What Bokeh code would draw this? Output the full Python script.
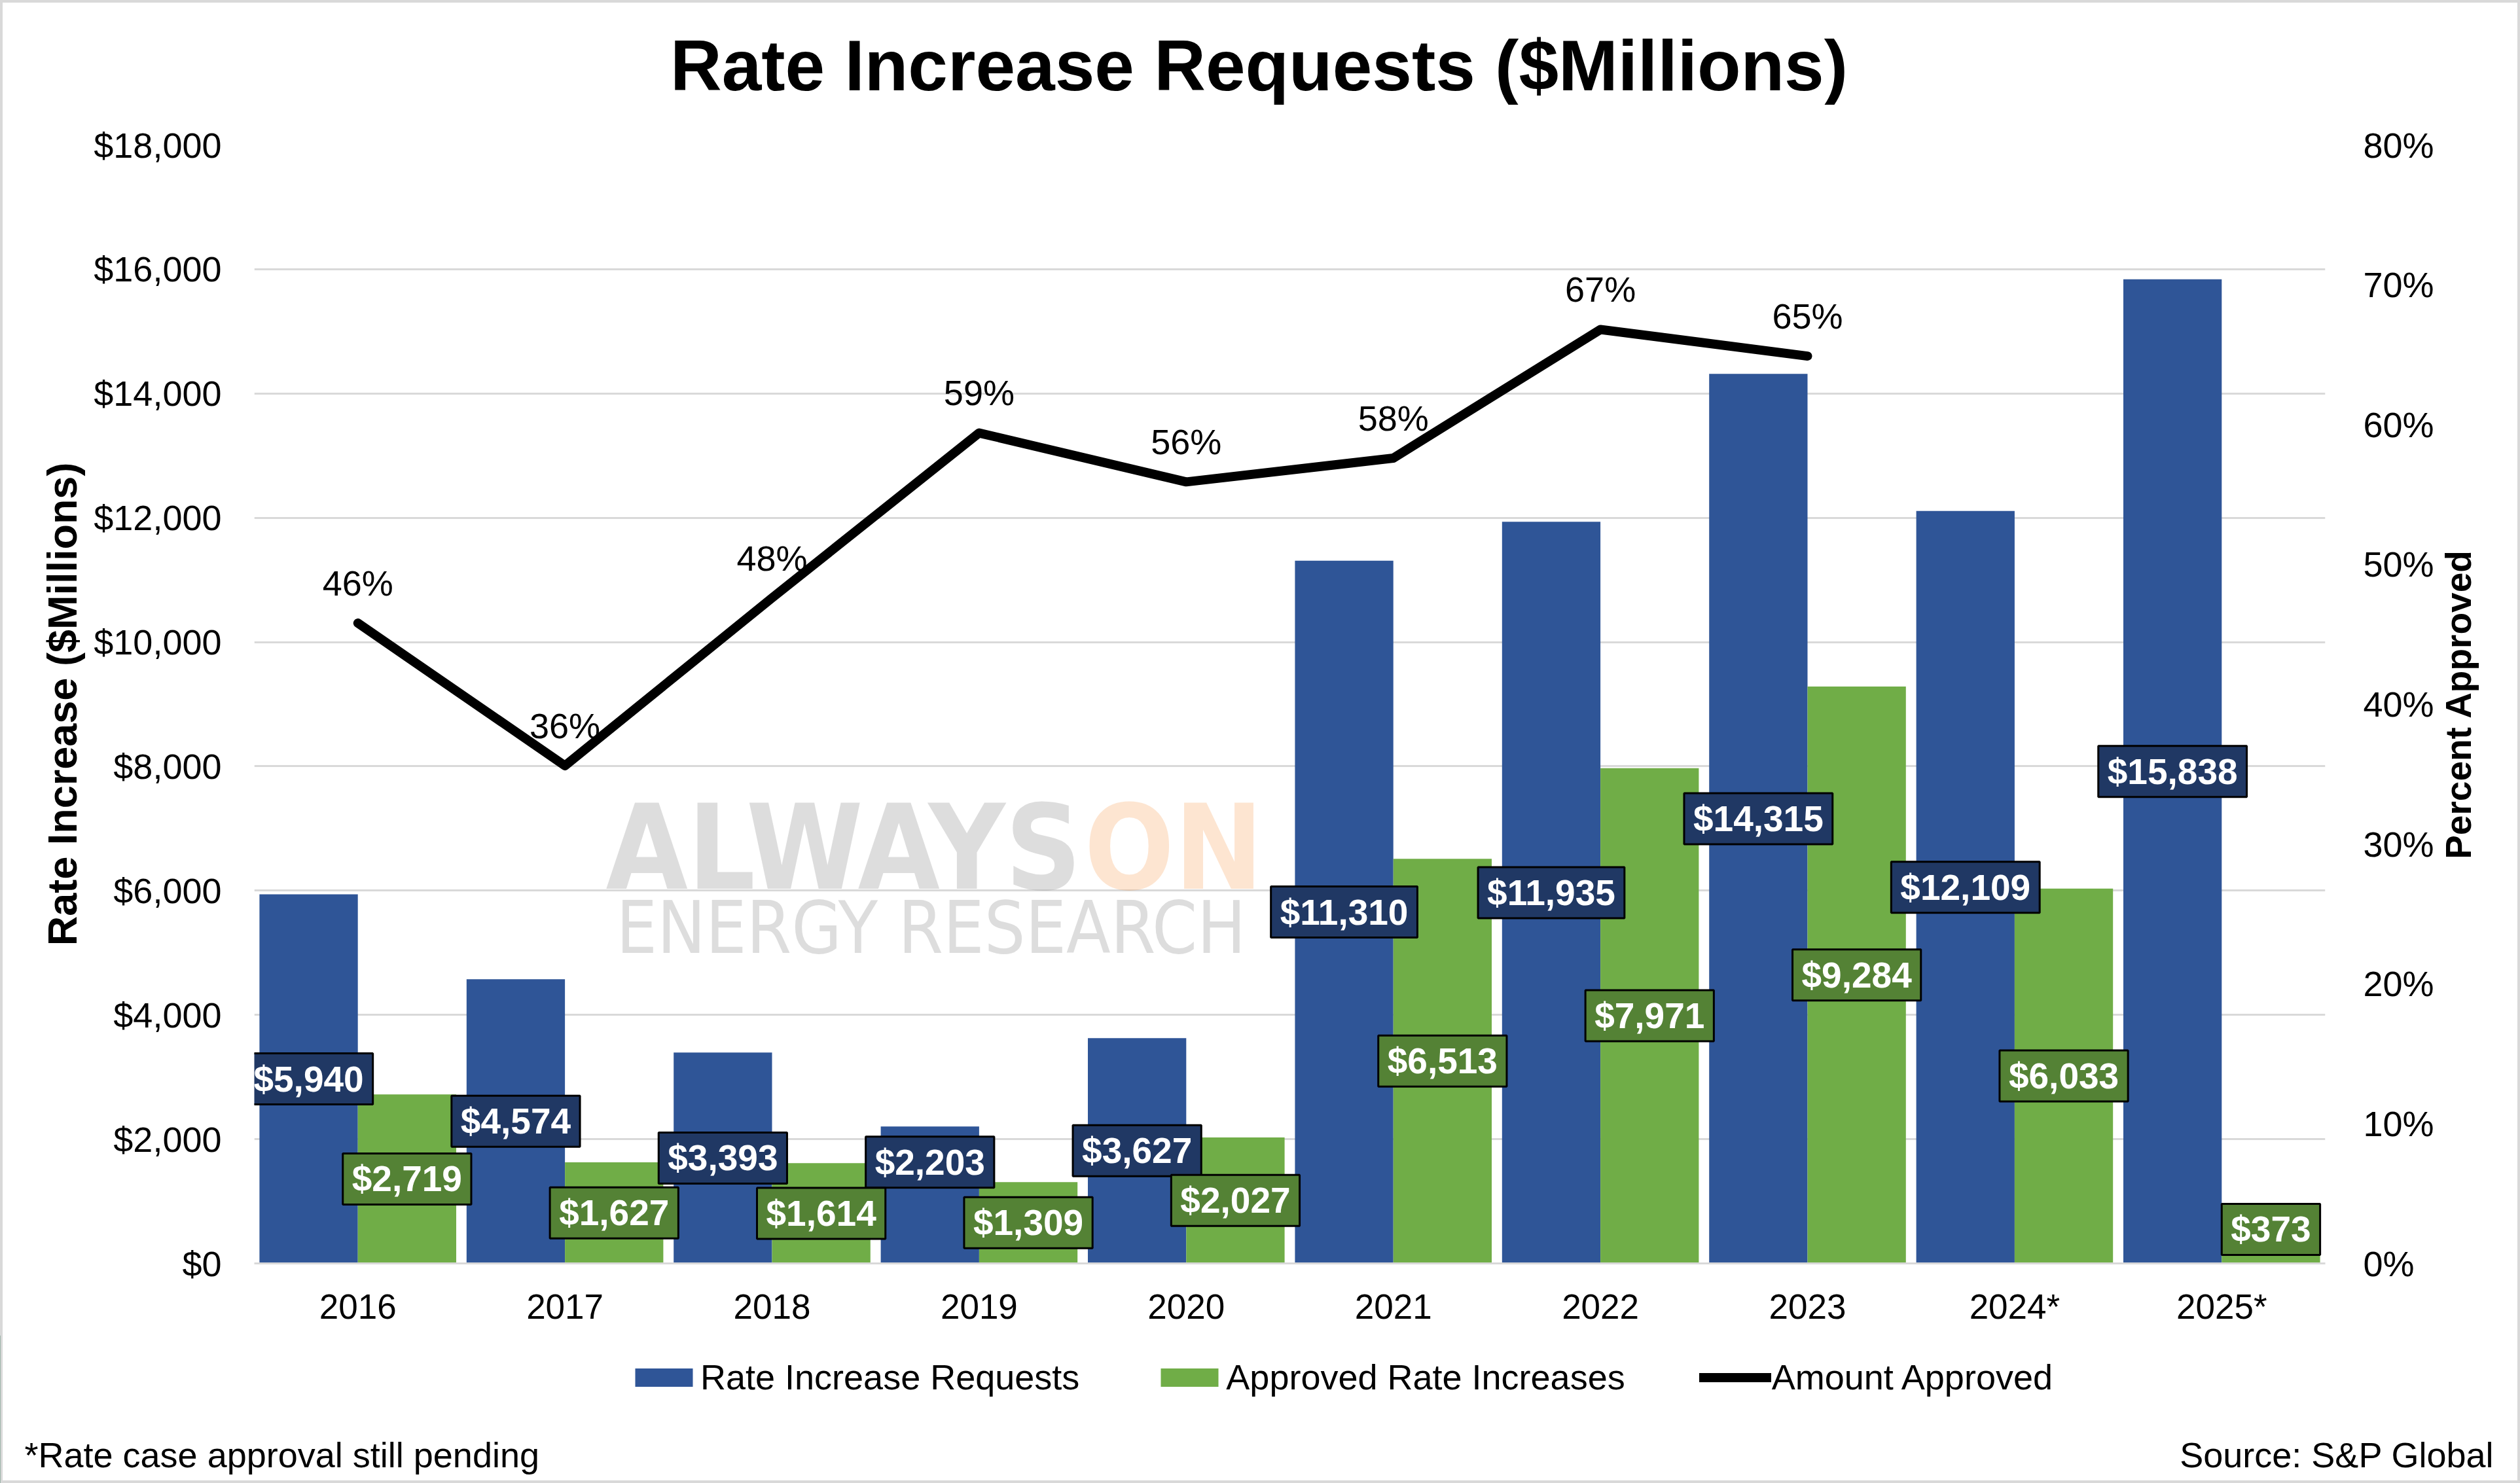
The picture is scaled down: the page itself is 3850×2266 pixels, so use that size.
import math

from bokeh.plotting import figure
from bokeh.layouts import column
from bokeh.models import (ColumnDataSource, FactorRange, Range1d, LinearAxis, FixedTicker,
                          NumeralTickFormatter, PrintfTickFormatter, Label, Legend, LegendItem)
from bokeh.transform import dodge
from bokeh.core.properties import value
from bokeh.embed import file_html
from bokeh.resources import INLINE

# data
years = ["2016", "2017", "2018", "2019", "2020", "2021", "2022", "2023", "2024*", "2025*"]
requests = [5940, 4574, 3393, 2203, 3627, 11310, 11935, 14315, 12109, 15838]
approved = [2719, 1627, 1614, 1309, 2027, 6513, 7971, 9284, 6033, 373]
pct_years = ["2016", "2017", "2018", "2019", "2020", "2021", "2022", "2023"]
pct_approved = [45.8, 35.6, 47.6, 59.4, 55.9, 57.6, 66.8, 64.9]
left_ticks = [0, 2000, 4000, 6000, 8000, 10000, 12000, 14000, 16000, 18000]
right_ticks = [0, 10, 20, 30, 40, 50, 60, 70, 80]

BLUE = "#2F5597"
GREEN = "#70AD47"
BLUE_LAB = "#203864"
GREEN_LAB = "#548235"
GRID = "#D9D9D9"
FONT = "Liberation Sans"
WM_FONT = "DejaVu Sans Condensed"

W = 3850
H_HEAD = 160
H_MAIN = 1880
H_FOOT = 226


def strip(height):
    # plain figure used only to hold text (header / footer)
    f = figure(x_range=Range1d(0, 1), y_range=Range1d(0, 1), width=W, height=height,
               output_backend="svg", toolbar_location=None, title=None,
               x_axis_type=None, y_axis_type=None, min_border=0)
    f.frame_align = False
    f.outline_line_color = None
    f.background_fill_alpha = 0
    f.border_fill_alpha = 0
    f.grid.visible = False
    return f


# header with the title
head = strip(H_HEAD)
head.add_layout(Label(x=1923, y=61, x_units="screen", y_units="screen",
                      text="Rate Increase Requests ($Millions)", text_font=FONT,
                      text_font_style="bold", text_font_size="109px",
                      text_align="center", text_baseline="middle", text_color="black"))

# labels sit at the middle of the bar, but never lower than these
src = ColumnDataSource(dict(
    year=years,
    req=requests,
    app=approved,
    req_y=[max(v / 2, 1630) for v in requests],
    app_y=[max(v / 2, 548) for v in approved],
    req_txt=["${:,}".format(v) for v in requests],
    app_txt=["${:,}".format(v) for v in approved],
))

p = figure(x_range=FactorRange(*years), y_range=Range1d(0, 18000),
           width=W, height=H_MAIN, title=None,
           output_backend="svg", toolbar_location=None,
           min_border_left=388, min_border_right=298,
           min_border_top=221 - H_HEAD, min_border_bottom=H_HEAD + H_MAIN - 1930)
p.frame_align = False
p.extra_y_ranges = {"pct": Range1d(0, 80)}
p.outline_line_color = None
p.background_fill_alpha = 0
p.border_fill_alpha = 0

p.xgrid.grid_line_color = None
p.ygrid.ticker = FixedTicker(ticks=left_ticks)
p.ygrid.grid_line_color = GRID
p.ygrid.grid_line_width = 3

# axes
p.yaxis.ticker = FixedTicker(ticks=left_ticks)
p.yaxis.formatter = NumeralTickFormatter(format="$0,0")
p.yaxis.axis_label = "Rate Increase ($Millions)"
p.yaxis.axis_label_text_font_size = "63px"
p.yaxis.axis_label_standoff = 10
p.yaxis.major_label_standoff = 44

right = LinearAxis(y_range_name="pct", ticker=FixedTicker(ticks=right_ticks),
                   formatter=PrintfTickFormatter(format="%d%%"))
right.major_label_standoff = 52
p.add_layout(right, "right")

for ax in [p.xaxis[0], p.yaxis[0], right]:
    ax.major_tick_line_color = None
    ax.minor_tick_line_color = None
    ax.axis_line_color = None
    ax.major_label_text_font = FONT
    ax.major_label_text_font_size = "54px"
    ax.major_label_text_color = "black"
    ax.axis_label_text_font = FONT
    ax.axis_label_text_font_style = "bold"
    ax.axis_label_text_color = "black"

p.xaxis.axis_line_color = GRID
p.xaxis.axis_line_width = 3
p.xaxis.major_label_standoff = 30
p.xaxis.major_label_text_font_size = "53px"

# right axis title, reading bottom to top, centred on the frame
p.add_layout(Label(x=34, y=854.5, x_units="screen", y_units="screen",
                   text="Percent Approved", angle=math.pi / 2,
                   text_align="center", text_baseline="middle", text_font=FONT,
                   text_font_style="bold", text_font_size="55px", text_color="black"),
             "right")

# bars and line
blue = p.vbar(x=dodge("year", -0.2375, range=p.x_range), top="req", width=0.475,
              source=src, fill_color=BLUE, line_color=None)
green = p.vbar(x=dodge("year", 0.2375, range=p.x_range), top="app", width=0.475,
               source=src, fill_color=GREEN, line_color=None)
line = p.line(pct_years, pct_approved, y_range_name="pct", line_color="black",
              line_width=14, line_cap="round", line_join="round")

# faint watermark
p.add_layout(Label(x=1264, y=635, x_units="screen", y_units="screen", text="ALWAYS",
                   text_font=WM_FONT, text_font_style="bold", text_font_size="180px",
                   text_align="right", text_baseline="alphabetic",
                   text_color="#A6A6A6", text_alpha=0.38))
p.add_layout(Label(x=1268, y=635, x_units="screen", y_units="screen", text="ON",
                   text_font=WM_FONT, text_font_style="bold", text_font_size="180px",
                   text_align="left", text_baseline="alphabetic",
                   text_color="#F79646", text_alpha=0.25))
p.add_layout(Label(x=1034, y=513, x_units="screen", y_units="screen", text="ENERGY RESEARCH",
                   text_font=WM_FONT, text_font_size="110px",
                   text_align="center", text_baseline="alphabetic",
                   text_color="#A6A6A6", text_alpha=0.38))

p.text(x=pct_years, y=[v + 2.86 for v in pct_approved],
       text=["{}%".format(round(v)) for v in pct_approved], y_range_name="pct",
       text_align="center", text_baseline="middle", text_font=value(FONT),
       text_font_size="54px", text_color="black")

p.text(x=dodge("year", -0.2375, range=p.x_range), y="req_y", text="req_txt", source=src,
       text_align="center", text_baseline="middle", text_font=value(FONT),
       text_font_style="bold", text_font_size="55px", text_color="white",
       background_fill_color=BLUE_LAB, border_line_color="black", border_line_width=3,
       padding=(14, 8))
p.text(x=dodge("year", 0.2375, range=p.x_range), y="app_y", text="app_txt", source=src,
       text_align="center", text_baseline="middle", text_font=value(FONT),
       text_font_style="bold", text_font_size="55px", text_color="white",
       background_fill_color=GREEN_LAB, border_line_color="black", border_line_width=3,
       padding=(14, 8))

# footer strip: legend and the two notes
foot = strip(H_FOOT)

# legend swatches styled like the series above (kept outside the visible strip)
k_blue = foot.vbar(x=[-5], top=[1], width=0.5, fill_color=BLUE, line_color=None)
k_green = foot.vbar(x=[-5], top=[1], width=0.5, fill_color=GREEN, line_color=None)
k_line = foot.line(x=[-6, -5], y=[0.5, 0.5], line_color="black", line_width=14,
                   line_cap="round")

legend = Legend(items=[LegendItem(label="Rate Increase Requests", renderers=[k_blue]),
                       LegendItem(label="Approved Rate Increases", renderers=[k_green]),
                       LegendItem(label="Amount Approved", renderers=[k_line])],
                location=(959, 131), orientation="horizontal",
                glyph_width=110, glyph_height=35, label_standoff=1, spacing=113,
                padding=0, margin=0, border_line_color=None, background_fill_alpha=0,
                label_text_font=FONT, label_text_font_size="54px", label_text_color="black")
foot.add_layout(legend)

foot.add_layout(Label(x=37, y=44, x_units="screen", y_units="screen",
                      text="*Rate case approval still pending", text_font=FONT,
                      text_font_size="54px", text_align="left", text_baseline="middle",
                      text_color="black"))
foot.add_layout(Label(x=3810, y=44, x_units="screen", y_units="screen",
                      text="Source: S&P Global", text_font=FONT,
                      text_font_size="54px", text_align="right", text_baseline="middle",
                      text_color="black"))

page = column(head, p, foot, spacing=0)
page.styles = {"outline": "4px solid #D9D9D9", "outline-offset": "-4px",
               "background-color": "white"}

open("out.html", "w").write(file_html(page, INLINE))
